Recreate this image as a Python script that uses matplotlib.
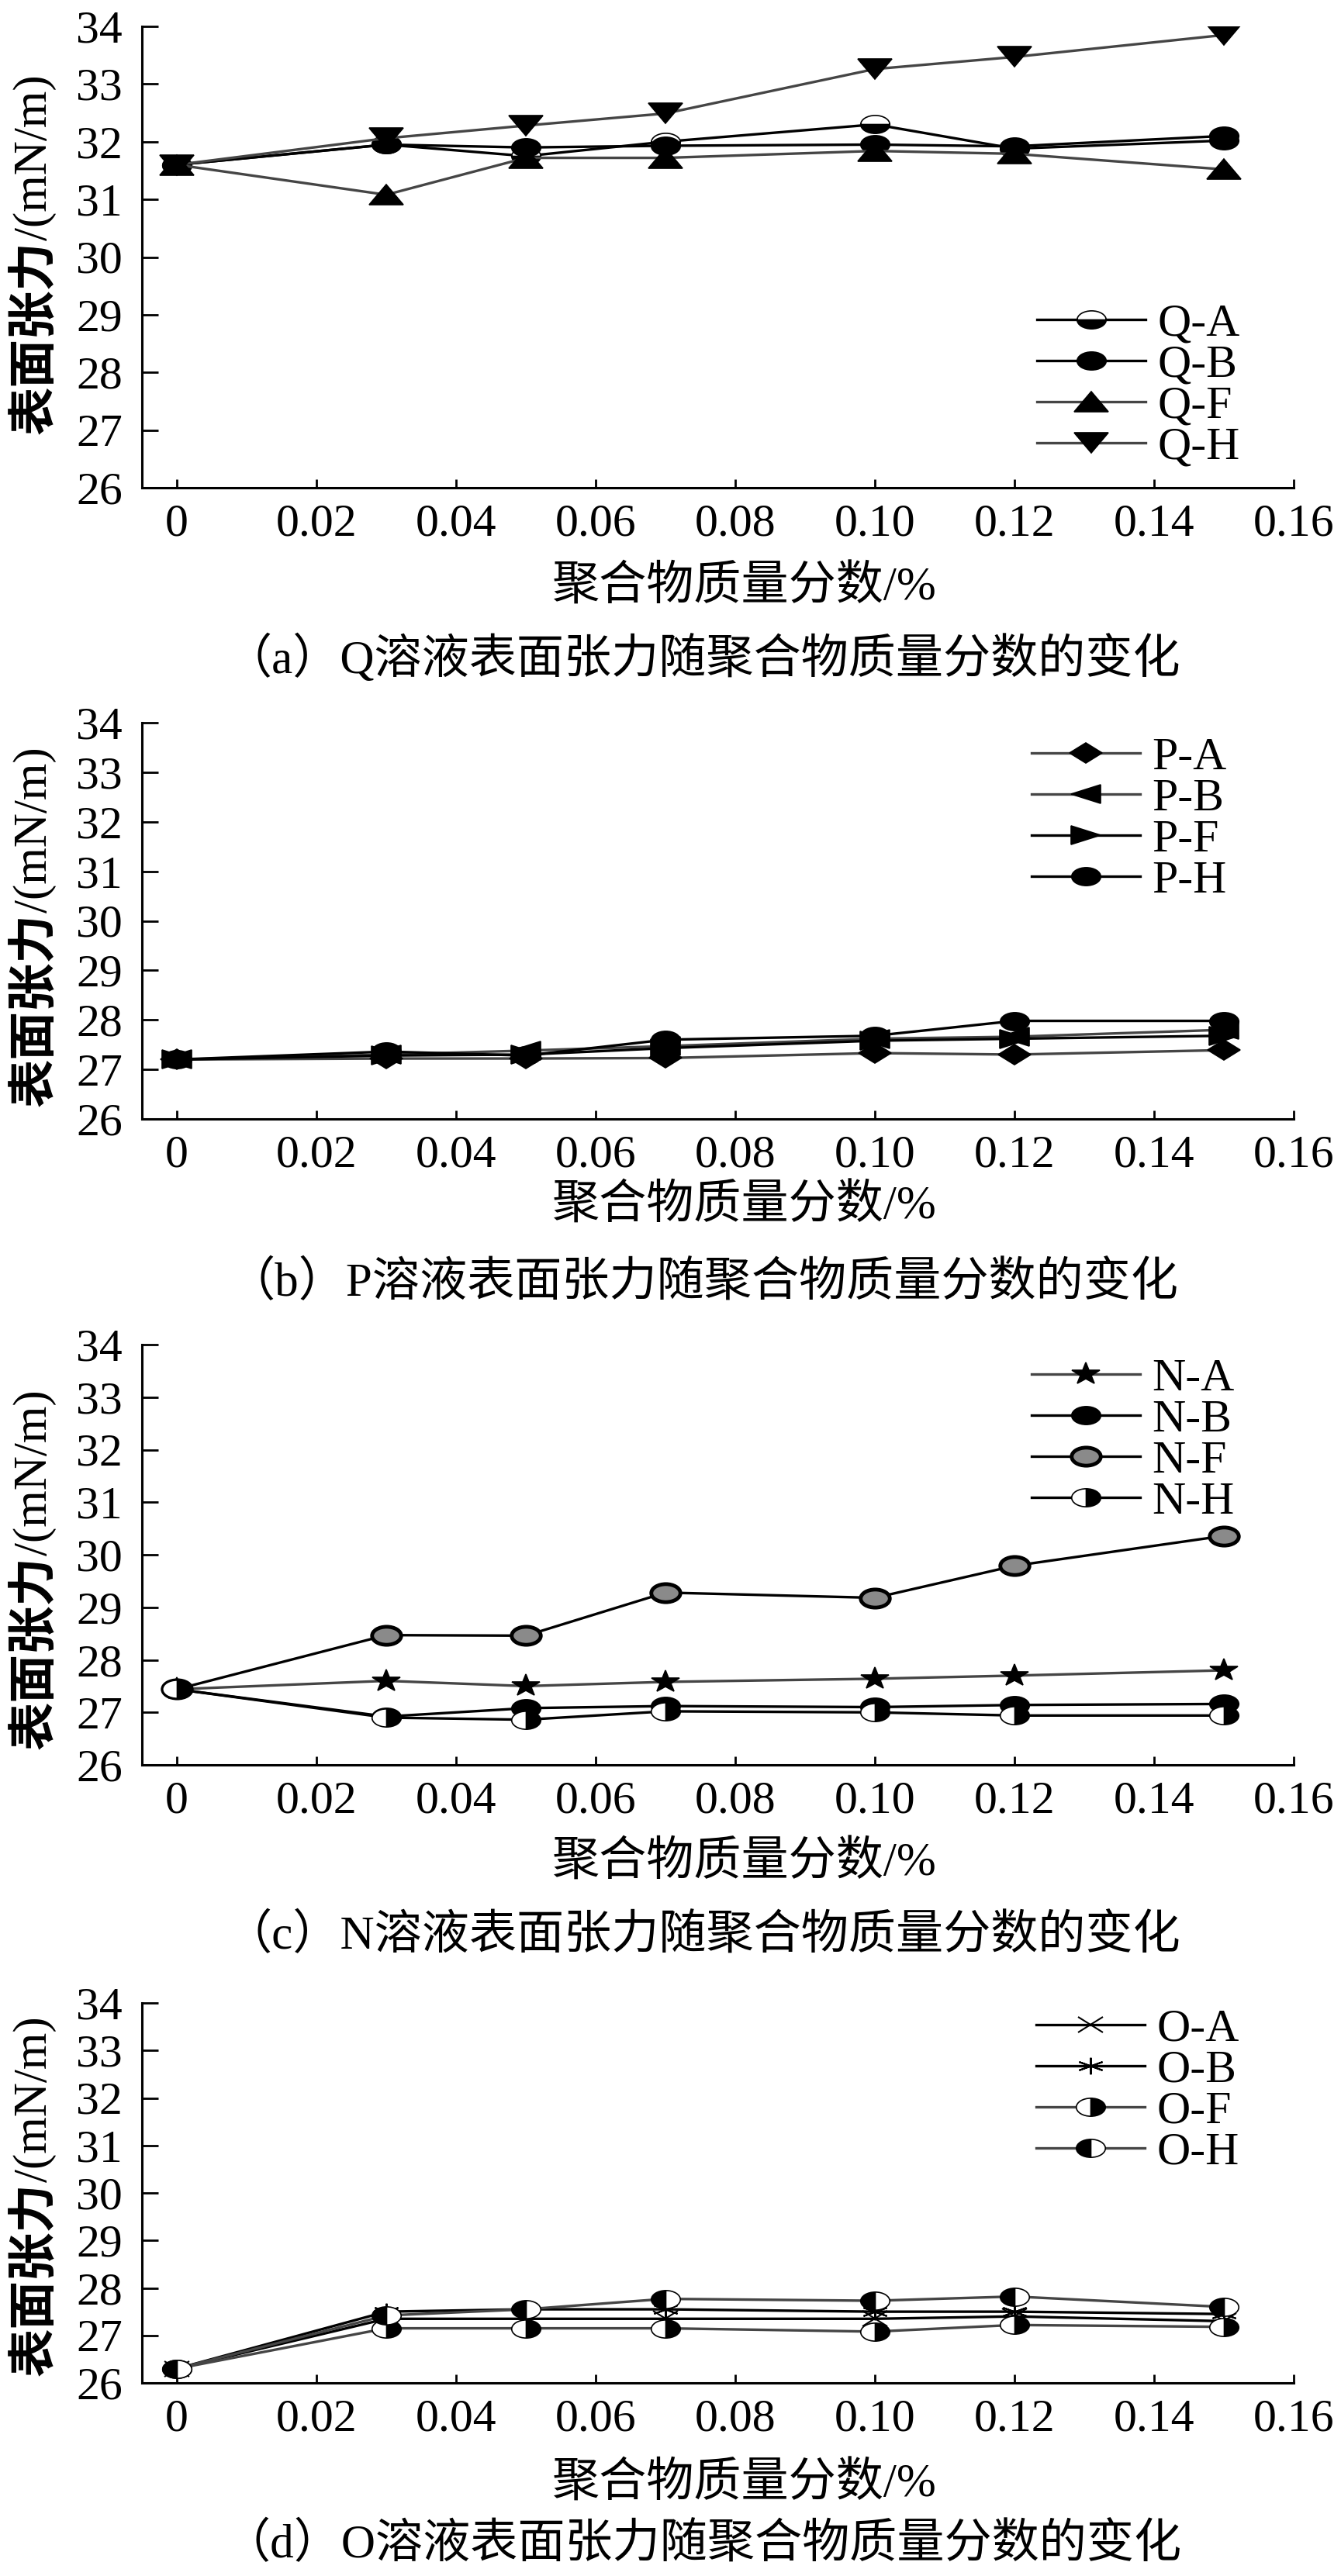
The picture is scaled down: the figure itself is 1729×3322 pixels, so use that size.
import matplotlib
matplotlib.use('Agg')
import matplotlib.pyplot as plt
from matplotlib.markers import MarkerStyle
from matplotlib.transforms import Affine2D

W, H = 1729, 3322
DPI = 100

# polymer mass fraction (%) and surface tension (mN/m)
conc = [0, 0.03, 0.05, 0.07, 0.10, 0.12, 0.15]

q_labels = ['Q-A', 'Q-B', 'Q-F', 'Q-H']
q_a = [31.6, 31.95, 31.75, 32.0, 32.3, 31.88, 32.02]
q_b = [31.6, 31.95, 31.9, 31.93, 31.95, 31.92, 32.1]
q_f = [31.6, 31.08, 31.72, 31.72, 31.84, 31.79, 31.52]
q_h = [31.6, 32.06, 32.28, 32.49, 33.26, 33.47, 33.85]

p_labels = ['P-A', 'P-B', 'P-F', 'P-H']
p_a = [27.2, 27.22, 27.22, 27.23, 27.33, 27.3, 27.39]
p_b = [27.2, 27.3, 27.38, 27.47, 27.62, 27.66, 27.8]
p_f = [27.2, 27.28, 27.3, 27.43, 27.58, 27.62, 27.68]
p_h = [27.2, 27.36, 27.28, 27.6, 27.68, 27.98, 27.98]

n_labels = ['N-A', 'N-B', 'N-F', 'N-H']
n_a = [27.44, 27.6, 27.5, 27.58, 27.64, 27.7, 27.8]
n_b = [27.44, 26.92, 27.08, 27.12, 27.1, 27.14, 27.16]
n_f = [27.44, 28.47, 28.46, 29.28, 29.18, 29.79, 30.36]
n_h = [27.44, 26.9, 26.86, 27.02, 27.0, 26.94, 26.94]

o_labels = ['O-A', 'O-B', 'O-F', 'O-H']
o_a = [26.3, 27.35, 27.35, 27.35, 27.35, 27.4, 27.3]
o_b = [26.3, 27.5, 27.55, 27.55, 27.5, 27.5, 27.45]
o_f = [26.3, 27.15, 27.15, 27.15, 27.08, 27.22, 27.18]
o_h = [26.3, 27.42, 27.55, 27.77, 27.73, 27.82, 27.6]

xticks = [0, 0.02, 0.04, 0.06, 0.08, 0.10, 0.12, 0.14, 0.16]
xtick_labels = ['0', '0.02', '0.04', '0.06', '0.08', '0.10', '0.12', '0.14', '0.16']
yticks = [26, 27, 28, 29, 30, 31, 32, 33, 34]

ylabel_cn = '表面张力'
ylabel_unit = '/(mN/m)'
xlabel = '聚合物质量分数/%'
captions = ['（a）Q溶液表面张力随聚合物质量分数的变化',
            '（b）P溶液表面张力随聚合物质量分数的变化',
            '（c）N溶液表面张力随聚合物质量分数的变化',
            '（d）O溶液表面张力随聚合物质量分数的变化']

SERIF = ['Liberation Serif', 'Noto Sans CJK SC', 'DejaVu Sans']
plt.rcParams['font.family'] = SERIF


def mk(shape, fill='full', squash=0.62):
    # the markers in the source are flattened vertically
    return MarkerStyle(shape, fillstyle=fill, transform=Affine2D().scale(1, squash))


GRAY = '#454545'

# (values, label, color, marker, size, extra kwargs)
panels = [
    dict(box=(34, 629), legend=(1337, 498), ylab_bottom=560,
         text_y=(758, 850),
         series=[(q_a, q_labels[0], 'black', mk('o', 'bottom'), 27, dict(markerfacecoloralt='white')),
                 (q_b, q_labels[1], 'black', mk('o'), 27, {}),
                 (q_f, q_labels[2], GRAY, mk('^'), 31, {}),
                 (q_h, q_labels[3], GRAY, mk('v'), 31, {})]),
    dict(box=(932, 1443), legend=(1330, 1057), ylab_bottom=1427,
         text_y=(1556, 1655),
         series=[(p_a, p_labels[0], GRAY, mk('D'), 21, {}),
                 (p_b, p_labels[1], GRAY, mk('<'), 28, {}),
                 (p_f, p_labels[2], 'black', mk('>'), 28, {}),
                 (p_h, p_labels[3], 'black', mk('o'), 27, {})]),
    dict(box=(1734, 2276), legend=(1330, 1858), ylab_bottom=2256,
         text_y=(2403, 2497),
         series=[(n_a, n_labels[0], GRAY, mk('*', squash=0.8), 27, {}),
                 (n_b, n_labels[1], 'black', mk('o'), 27, {}),
                 (n_f, n_labels[2], 'black', mk('o'), 27, dict(markerfacecolor='#8a8a8a', markeredgewidth=3.5)),
                 (n_h, n_labels[3], 'black', mk('o', 'right'), 27, dict(markerfacecoloralt='white'))]),
    dict(box=(2583, 3073), legend=(1336, 2697), ylab_bottom=3064,
         text_y=(3204, 3282),
         series=[(o_a, o_labels[0], 'black', mk('x'), 23, dict(markeredgewidth=1.5)),
                 (o_b, o_labels[1], 'black', mk((6, 2, 0)), 25, dict(markeredgewidth=1.5)),
                 (o_f, o_labels[2], GRAY, mk('o', 'right'), 27, dict(markerfacecoloralt='white')),
                 (o_h, o_labels[3], GRAY, mk('o', 'left'), 27, dict(markerfacecoloralt='white'))]),
]

fig = plt.figure(figsize=(W / DPI, H / DPI), dpi=DPI)
ax_left, ax_right = 183, 1668

for i, pan in enumerate(panels):
    top, bottom = pan['box']
    ax = fig.add_axes([ax_left / W, 1 - bottom / H, (ax_right - ax_left) / W, (bottom - top) / H])

    for vals, lab, col, marker, ms, extra in pan['series']:
        kw = dict(color=col, lw=2.4, marker=marker, markersize=ms,
                  markerfacecolor='black', markeredgecolor='black', markeredgewidth=1.2)
        kw.update(extra)
        ax.plot(conc, vals, label=lab, **kw)

    ax.set_xlim(-0.005, 0.16)
    ax.set_ylim(26, 34)
    ax.set_xticks(xticks, xtick_labels)
    ax.set_yticks(yticks)
    for side in ['top', 'right']:
        ax.spines[side].set_visible(False)
    for side in ['left', 'bottom']:
        ax.spines[side].set_linewidth(2.2)
    ax.tick_params(axis='both', direction='in', width=2, labelsize=43)
    ax.tick_params(axis='y', length=15, pad=18)
    ax.tick_params(axis='x', length=8, pad=15)

    lx, ly = pan['legend']
    ax.legend(loc='center left', bbox_to_anchor=(lx / W, 1 - ly / H),
              bbox_transform=fig.transFigure, frameon=False, fontsize=43,
              borderpad=0, borderaxespad=0, handlelength=2.35, handletextpad=0.25,
              labelspacing=-0.03, numpoints=1)

    # y label: bold Chinese part, then the unit in serif on top of it
    t1 = fig.text(45 / W, 1 - pan['ylab_bottom'] / H, ylabel_cn, rotation=90,
                  ha='center', va='bottom', family=['Noto Sans CJK SC'],
                  weight='bold', fontsize=45)
    ax.annotate(ylabel_unit, xy=(0.5, 1.0), xycoords=t1, rotation=90,
                ha='center', va='bottom', family=['Liberation Serif'], fontsize=44)

    xl_y, cap_y = pan['text_y']
    fig.text(960 / W, 1 - xl_y / H, xlabel, ha='center', va='center', fontsize=44)
    fig.text(906 / W, 1 - cap_y / H, captions[i], ha='center', va='center', fontsize=44)

fig.savefig('out.png', dpi=DPI, facecolor='white')
